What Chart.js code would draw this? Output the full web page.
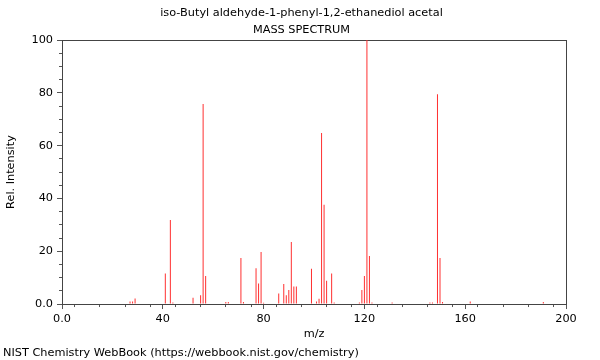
<!DOCTYPE html>
<html>
<head>
<meta charset="utf-8">
<script src="https://cdn.jsdelivr.net/npm/chart.js@4.4.1/dist/chart.umd.min.js"></script>
<style>
  html, body { margin: 0; padding: 0; background: #fff; }
  #wrap { width: 600px; height: 360px; }
</style>
</head>
<body>
<div id="wrap"><canvas id="chart" width="600" height="360"></canvas></div>
<script>
const titleLines = ["iso-Butyl aldehyde-1-phenyl-1,2-ethanediol acetal", "MASS SPECTRUM"];
const footerText = "NIST Chemistry WebBook (https://webbook.nist.gov/chemistry)";

// peaks (m/z, relative intensity)
const peakMz = [27, 28, 29, 41, 43, 44, 52, 55, 56, 57, 65, 66, 71, 72, 77, 78, 79, 80,
  86, 88, 89, 90, 91, 92, 93, 99, 101, 102, 103, 104, 105, 107, 108,
  118, 119, 120, 121, 122, 123, 131, 146, 147, 149, 150, 151, 162, 191];
const peakIntensity = [1.0, 1.0, 2.1, 11.6, 31.8, 0.6, 2.4, 3.3, 75.8, 10.6, 0.8, 0.8, 17.4, 0.8, 13.6, 7.8, 19.7, 0.5,
  4.0, 7.6, 3.3, 5.3, 23.5, 6.6, 6.6, 13.4, 1.0, 2.0, 64.8, 37.6, 8.8, 11.6, 0.6,
  0.6, 5.3, 10.6, 100, 18.2, 0.6, 0.6, 0.6, 0.6, 79.5, 17.4, 0.8, 1.0, 0.8];

const xRange = [0, 200];
const yRange = [0, 100];
const xMajorStep = 40, xMinorStep = 10;
const yMajorStep = 20, yMinorStep = 5;

const fmtTick = (v) => (v === 0 ? "0.0" : String(v));

Chart.defaults.font.family = '"DejaVu Sans", sans-serif';
Chart.defaults.font.size = 11.3;
Chart.defaults.color = "#000";

const axisColor = "#444";
const tickColor = "#555";

new Chart(document.getElementById("chart"), {
  type: "bar",
  data: {
    datasets: [{
      data: peakMz.map((mz, i) => ({ x: mz, y: peakIntensity[i] })),
      xAxisID: "x",
      yAxisID: "y",
      backgroundColor: "rgb(255, 48, 48)",
      borderWidth: 0,
      barThickness: 1,
      inflateAmount: 0,
    }],
  },
  options: {
    responsive: false,
    animation: false,
    events: [],
    layout: { padding: { left: 3, right: 0, top: 0, bottom: 0 } },
    plugins: {
      legend: { display: false },
      tooltip: { enabled: false },
      title: {
        display: true,
        text: titleLines,
        color: "#000",
        font: { size: 11.3, weight: "normal", lineHeight: 1.5 },
        padding: { top: 4.5, bottom: 1.6 },
      },
      subtitle: {
        display: true,
        position: "bottom",
        align: "start",
        text: footerText,
        color: "#000",
        font: { size: 11.3, weight: "normal" },
        padding: 0,
      },
    },
    scales: {
      x: {
        type: "linear",
        position: "bottom",
        min: xRange[0],
        max: xRange[1],
        offset: false,
        ticks: { stepSize: xMajorStep, padding: 3, maxRotation: 0, autoSkip: false, callback: fmtTick },
        grid: { drawOnChartArea: false, offset: false, tickLength: 5, color: tickColor },
        border: { color: axisColor },
        title: { display: true, text: "m/z", padding: { top: 0, bottom: 6 } },
        afterFit: (s) => { s.height = 42.4; },
      },
      xMinor: {
        type: "linear",
        position: "bottom",
        weight: -1,
        min: xRange[0],
        max: xRange[1],
        offset: false,
        ticks: { stepSize: xMinorStep, display: false },
        grid: { drawOnChartArea: false, tickLength: 3, color: tickColor },
        border: { display: false },
        afterFit: (s) => { s.height = 0; },
      },
      xTop: {
        type: "linear",
        position: "top",
        min: xRange[0],
        max: xRange[1],
        ticks: { display: false },
        grid: { display: false },
        border: { color: axisColor },
        afterFit: (s) => { s.height = 0; },
      },
      y: {
        type: "linear",
        position: "left",
        min: yRange[0],
        max: yRange[1],
        ticks: { stepSize: yMajorStep, padding: 4, callback: fmtTick },
        grid: { drawOnChartArea: false, tickLength: 5, color: tickColor },
        border: { color: axisColor },
        title: { display: true, text: "Rel. Intensity", padding: { top: 1.2, bottom: 0 } },
        afterFit: (s) => { s.width = 59; },
      },
      yMinor: {
        type: "linear",
        position: "left",
        weight: -1,
        min: yRange[0],
        max: yRange[1],
        ticks: { stepSize: yMinorStep, display: false },
        grid: { drawOnChartArea: false, tickLength: 3, color: tickColor },
        border: { display: false },
        afterFit: (s) => { s.width = 0; },
      },
      yRight: {
        type: "linear",
        position: "right",
        min: yRange[0],
        max: yRange[1],
        ticks: { display: false },
        grid: { display: false },
        border: { color: axisColor },
        afterFit: (s) => { s.width = 34; },
      },
    },
  },
});
</script>
</body>
</html>
